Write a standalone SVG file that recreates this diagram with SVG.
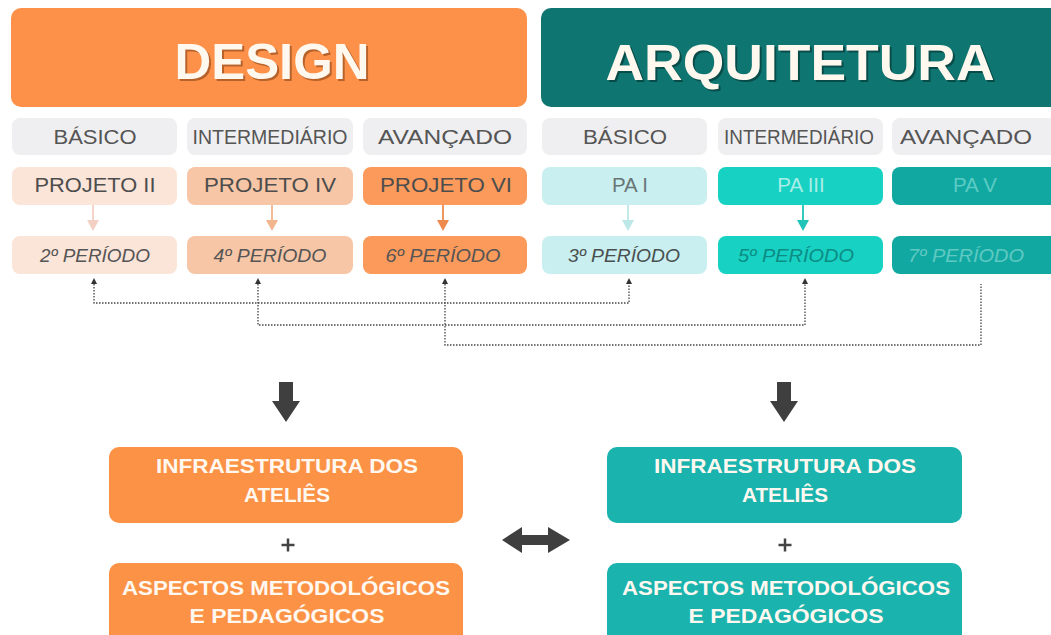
<svg xmlns="http://www.w3.org/2000/svg" width="1051" height="635" viewBox="0 0 1051 635">
<defs>
<style>
.title{font-family:"Liberation Sans",Arial,sans-serif;font-weight:bold;font-size:50px;text-anchor:middle}
.lvl{font-family:"Liberation Sans",Arial,sans-serif;font-size:20px;fill:#555;text-anchor:middle}
.prj{font-family:"Liberation Sans",Arial,sans-serif;font-size:20.5px;text-anchor:middle}
.per{font-family:"Liberation Sans",Arial,sans-serif;font-size:19px;font-style:italic;text-anchor:middle}
.bot{font-family:"Liberation Sans",Arial,sans-serif;font-size:21px;font-weight:bold;fill:#fff8f0;text-anchor:middle}
.grey{fill:#efeff1}
.dot{fill:none;stroke:#444;stroke-width:1.3;stroke-dasharray:1.5 1.5}
</style>
<marker id="ah" viewBox="0 0 10 10" refX="5" refY="5" markerWidth="6" markerHeight="6" markerUnits="userSpaceOnUse" orient="auto-start-reverse">
<path d="M0,0 L10,5 L0,10 z" fill="#333"/>
</marker>
</defs>
<rect width="1051" height="635" fill="#ffffff"/>

<g id="header-design">
<rect x="11" y="8" width="516" height="99" rx="10" fill="#fe914a"/>
<text class="title" x="274" y="81" fill="#7a3d10" fill-opacity="0.55" textLength="195" lengthAdjust="spacingAndGlyphs">DESIGN</text>
<text class="title" x="272" y="79" fill="#fff8ee" textLength="195" lengthAdjust="spacingAndGlyphs">DESIGN</text>
</g>
<g id="header-arquitetura">
<rect x="541" y="8" width="520" height="99" rx="10" fill="#0f7571"/>
<text class="title" x="802" y="82" fill="#03302e" fill-opacity="0.6" textLength="389" lengthAdjust="spacingAndGlyphs">ARQUITETURA</text>
<text class="title" x="800" y="80" fill="#fff8ee" textLength="389" lengthAdjust="spacingAndGlyphs">ARQUITETURA</text>
</g>

<g id="level-d1"><rect class="grey" x="12" y="118" width="165" height="37" rx="8"/><text class="lvl" x="95" y="144" textLength="83" lengthAdjust="spacingAndGlyphs">BÁSICO</text></g>
<g id="level-d2"><rect class="grey" x="187" y="118" width="166" height="37" rx="8"/><text class="lvl" x="270" y="144" textLength="155" lengthAdjust="spacingAndGlyphs">INTERMEDIÁRIO</text></g>
<g id="level-d3"><rect class="grey" x="363" y="118" width="164" height="37" rx="8"/><text class="lvl" x="445" y="144" textLength="134" lengthAdjust="spacingAndGlyphs">AVANÇADO</text></g>
<g id="level-a1"><rect class="grey" x="542" y="118" width="165" height="37" rx="8"/><text class="lvl" x="625" y="144" textLength="84" lengthAdjust="spacingAndGlyphs">BÁSICO</text></g>
<g id="level-a2"><rect class="grey" x="718" y="118" width="165" height="37" rx="8"/><text class="lvl" x="799" y="144" textLength="150" lengthAdjust="spacingAndGlyphs">INTERMEDIÁRIO</text></g>
<g id="level-a3"><rect class="grey" x="892" y="118" width="170" height="37" rx="8"/><text class="lvl" x="966" y="144" textLength="132" lengthAdjust="spacingAndGlyphs">AVANÇADO</text></g>

<g id="proj-d1"><rect x="12" y="167" width="165" height="38" rx="8" fill="#fbe4d8"/><text class="prj" x="95" y="192" fill="#4d4d4d" textLength="121" lengthAdjust="spacingAndGlyphs">PROJETO II</text></g>
<g id="proj-d2"><rect x="187" y="167" width="166" height="38" rx="8" fill="#f7c6a6"/><text class="prj" x="270" y="192" fill="#4d4d4d" textLength="132" lengthAdjust="spacingAndGlyphs">PROJETO IV</text></g>
<g id="proj-d3"><rect x="363" y="167" width="164" height="38" rx="8" fill="#fc9a5b"/><text class="prj" x="446" y="192" fill="#4d4d4d" textLength="132" lengthAdjust="spacingAndGlyphs">PROJETO VI</text></g>
<g id="proj-a1"><rect x="542" y="167" width="165" height="38" rx="8" fill="#c9eff0"/><text class="prj" x="630" y="192" fill="#6a7676">PA I</text></g>
<g id="proj-a2"><rect x="718" y="167" width="165" height="38" rx="8" fill="#17d2c3"/><text class="prj" x="801" y="192" fill="#a8ede8">PA III</text></g>
<g id="proj-a3"><rect x="892" y="167" width="170" height="38" rx="8" fill="#12a8a2"/><text class="prj" x="975" y="192" fill="#5ccbc4">PA V</text></g>

<g id="per-d1"><rect x="12" y="236" width="165" height="38" rx="8" fill="#fbe4d8"/><text class="per" x="95" y="262" fill="#555" textLength="110" lengthAdjust="spacingAndGlyphs">2º PERÍODO</text></g>
<g id="per-d2"><rect x="187" y="236" width="166" height="38" rx="8" fill="#f7c6a6"/><text class="per" x="270" y="262" fill="#555" textLength="113" lengthAdjust="spacingAndGlyphs">4º PERÍODO</text></g>
<g id="per-d3"><rect x="363" y="236" width="164" height="38" rx="8" fill="#fc9a5b"/><text class="per" x="443" y="262" fill="#555" textLength="115" lengthAdjust="spacingAndGlyphs">6º PERÍODO</text></g>
<g id="per-a1"><rect x="542" y="236" width="165" height="38" rx="8" fill="#c9eff0"/><text class="per" x="624" y="262" fill="#4a4f4f" textLength="112" lengthAdjust="spacingAndGlyphs">3º PERÍODO</text></g>
<g id="per-a2"><rect x="718" y="236" width="165" height="38" rx="8" fill="#17d2c3"/><text class="per" x="796" y="262" fill="#0c8c84" textLength="116" lengthAdjust="spacingAndGlyphs">5º PERÍODO</text></g>
<g id="per-a3"><rect x="892" y="236" width="170" height="38" rx="8" fill="#12a8a2"/><text class="per" x="966" y="262" fill="#5fc9c2" textLength="116" lengthAdjust="spacingAndGlyphs">7º PERÍODO</text></g>

<g id="box-design-infra"><rect x="109" y="447" width="354" height="76" rx="10" fill="#fc9246"/>
<text class="bot" x="287" y="473" textLength="262" lengthAdjust="spacingAndGlyphs">INFRAESTRUTURA DOS</text>
<text class="bot" x="287" y="502" textLength="86" lengthAdjust="spacingAndGlyphs">ATELIÊS</text></g>
<g id="plus-design"><path d="M281.5,545 H294.5 M288,538.5 V551.5" stroke="#444" stroke-width="2.5"/></g>
<g id="box-design-asp"><rect x="109" y="563" width="354" height="82" rx="10" fill="#fc9246"/>
<text class="bot" x="286" y="595" textLength="328" lengthAdjust="spacingAndGlyphs">ASPECTOS METODOLÓGICOS</text>
<text class="bot" x="287" y="623" textLength="195" lengthAdjust="spacingAndGlyphs">E PEDAGÓGICOS</text></g>

<g id="box-arq-infra"><rect x="607" y="447" width="355" height="76" rx="10" fill="#1bb3ad"/>
<text class="bot" x="785" y="473" textLength="262" lengthAdjust="spacingAndGlyphs">INFRAESTRUTURA DOS</text>
<text class="bot" x="785" y="502" textLength="86" lengthAdjust="spacingAndGlyphs">ATELIÊS</text></g>
<g id="plus-arq"><path d="M778.5,545 H791.5 M785,538.5 V551.5" stroke="#444" stroke-width="2.5"/></g>
<g id="box-arq-asp"><rect x="607" y="563" width="355" height="82" rx="10" fill="#1bb3ad"/>
<text class="bot" x="786" y="595" textLength="328" lengthAdjust="spacingAndGlyphs">ASPECTOS METODOLÓGICOS</text>
<text class="bot" x="786" y="623" textLength="195" lengthAdjust="spacingAndGlyphs">E PEDAGÓGICOS</text></g>

<g id="connectors">
<g id="small-arrows">
<path d="M93,205 V222" stroke="#f4cfc4" stroke-width="1.8"/><path d="M87,220 H99 L93,231 z" fill="#f4cfc4"/>
<path d="M272,205 V222" stroke="#f2b58e" stroke-width="1.8"/><path d="M266,220 H278 L272,231 z" fill="#f2b58e"/>
<path d="M443,205 V222" stroke="#ee8a4e" stroke-width="1.8"/><path d="M437,220 H449 L443,231 z" fill="#ee8a4e"/>
<path d="M628,205 V222" stroke="#bde8e8" stroke-width="1.8"/><path d="M622,220 H634 L628,231 z" fill="#bde8e8"/>
<path d="M803,205 V222" stroke="#20c4b8" stroke-width="1.8"/><path d="M797,220 H809 L803,231 z" fill="#20c4b8"/>
</g>
<path class="dot" d="M94,281 V303 H629 V281" marker-start="url(#ah)" marker-end="url(#ah)"/>
<path class="dot" d="M258,281 V325 H805 V281" marker-start="url(#ah)" marker-end="url(#ah)"/>
<path class="dot" d="M445,281 V345 H981 V284" marker-start="url(#ah)"/>
<path id="down-left" d="M279,382 H293 V401 H300 L286,422 L272,401 H279 z" fill="#3f3f3f"/>
<path id="down-right" d="M777,382 H791 V401 H798 L784,422 L770,401 H777 z" fill="#3f3f3f"/>
<path id="double-arrow" d="M502,540 L522,527 V535 H548 V527 L570,540 L548,553 V545 H522 V553 z" fill="#3f3f3f"/>
</g>
</svg>
